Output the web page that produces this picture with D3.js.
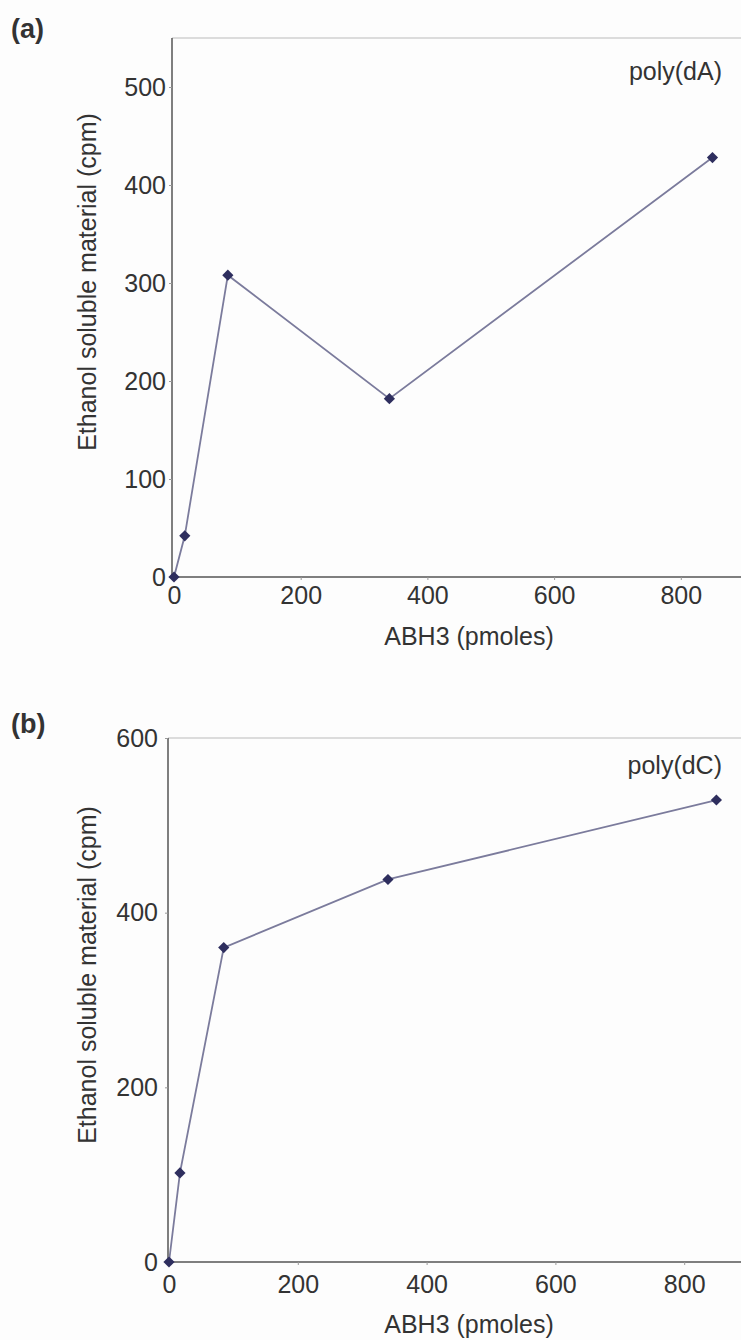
<!DOCTYPE html>
<html>
<head>
<meta charset="utf-8">
<script src="https://cdn.jsdelivr.net/npm/d3@7"></script>
<style>
  html, body { margin: 0; padding: 0; background: #fdfdfd; }
  svg { display: block; font-family: "Liberation Sans", Arial, sans-serif; }
</style>
</head>
<body>
<svg id="chart" width="741" height="1340"></svg>
<script>
// ABH3 titration against two homopolymer substrates
const abh3Pmoles = [0, 17, 85, 340, 850];
const polyDA = [0, 42, 308, 182, 428];
const polyDC = [0, 102, 360, 438, 529];
const xTicks = [0, 200, 400, 600, 800];
const yTicksA = [0, 100, 200, 300, 400, 500];
const yTicksB = [0, 200, 400, 600];

const svg = d3.select("#chart");

const lineColor = "#7b7b9c";
const markerColor = "#2e2e5e";
const axisColor = "#555";
const textColor = "#333";
const fontFamily = "Liberation Sans, Arial, sans-serif";

function panel(opts) {
  const g = svg.append("g");
  const x = d3.scaleLinear().domain([0, 900]).range([opts.x0, opts.x0 + 900 * opts.kx]);
  const y = d3.scaleLinear().domain([0, opts.yMax]).range([opts.yBottom, opts.yTop]);

  // light frame along the top
  g.append("line")
    .attr("x1", opts.axisX).attr("x2", 741)
    .attr("y1", opts.yTop).attr("y2", opts.yTop)
    .attr("stroke", "#d0d0d0").attr("stroke-width", 1.5);

  const xAxis = d3.axisBottom(x).tickValues(xTicks).tickSize(3).tickPadding(opts.xPad);
  const gx = g.append("g").attr("transform", `translate(0,${opts.yBottom})`).call(xAxis);
  gx.select(".domain").attr("d", `M${opts.axisX},0H741`).attr("stroke", axisColor).attr("stroke-width", 1.5);
  gx.selectAll(".tick line").attr("stroke", "#999");
  gx.selectAll(".tick text").attr("fill", textColor).style("font-size", "25px")
    .attr("font-family", fontFamily);

  const yAxis = d3.axisLeft(y).tickValues(opts.yTicks).tickSize(3).tickPadding(opts.yPad);
  const gy = g.append("g").attr("transform", `translate(${opts.axisX},0)`).call(yAxis);
  gy.select(".domain").attr("d", `M0,${opts.yTop}V${opts.yBottom}`).attr("stroke", axisColor).attr("stroke-width", 1.5);
  gy.selectAll(".tick line").attr("stroke", "#999");
  gy.selectAll(".tick text").attr("fill", textColor).style("font-size", "25px")
    .attr("font-family", fontFamily);

  const pts = abh3Pmoles.map((v, i) => [v, opts.values[i]]);

  g.append("path")
    .datum(pts)
    .attr("fill", "none")
    .attr("stroke", lineColor)
    .attr("stroke-width", 1.8)
    .attr("d", d3.line().x(d => x(d[0])).y(d => y(d[1])));

  g.selectAll("path.marker")
    .data(pts)
    .join("path")
    .attr("class", "marker")
    .attr("transform", d => `translate(${x(d[0])},${y(d[1])})`)
    .attr("d", d3.symbol(d3.symbolDiamond2, 80)())
    .attr("fill", markerColor);

  // panel letter
  g.append("text")
    .attr("x", 11).attr("y", opts.letterY)
    .attr("fill", textColor)
    .style("font-size", "27px").style("font-weight", "bold")
    .text(opts.letter);

  // substrate label
  g.append("text")
    .attr("x", opts.labelX).attr("y", opts.labelY)
    .attr("text-anchor", "end")
    .attr("fill", textColor)
    .style("font-size", "25px")
    .text(opts.label);

  // axis titles
  g.append("text")
    .attr("transform", `translate(${opts.yTitleX},${opts.yTitleY}) rotate(-90)`)
    .attr("text-anchor", "middle")
    .attr("fill", textColor)
    .style("font-size", "25px")
    .text("Ethanol soluble material (cpm)");

  g.append("text")
    .attr("x", 469).attr("y", opts.xTitleY)
    .attr("text-anchor", "middle")
    .attr("fill", textColor)
    .style("font-size", "25px")
    .text("ABH3 (pmoles)");
}

panel({
  values: polyDA, yTicks: yTicksA, yMax: 550,
  x0: 174, kx: 0.6335, axisX: 172, xPad: 6, yPad: 3,
  yTop: 38, yBottom: 577,
  letter: "(a)", letterY: 38,
  label: "poly(dA)", labelX: 722, labelY: 80,
  yTitleX: 96, yTitleY: 282, xTitleY: 645
});

panel({
  values: polyDC, yTicks: yTicksB, yMax: 600,
  x0: 169, kx: 0.644, axisX: 168, xPad: 10, yPad: 7,
  yTop: 738, yBottom: 1262,
  letter: "(b)", letterY: 733,
  label: "poly(dC)", labelX: 722, labelY: 774,
  yTitleX: 96, yTitleY: 975, xTitleY: 1333
});
</script>
</body>
</html>
